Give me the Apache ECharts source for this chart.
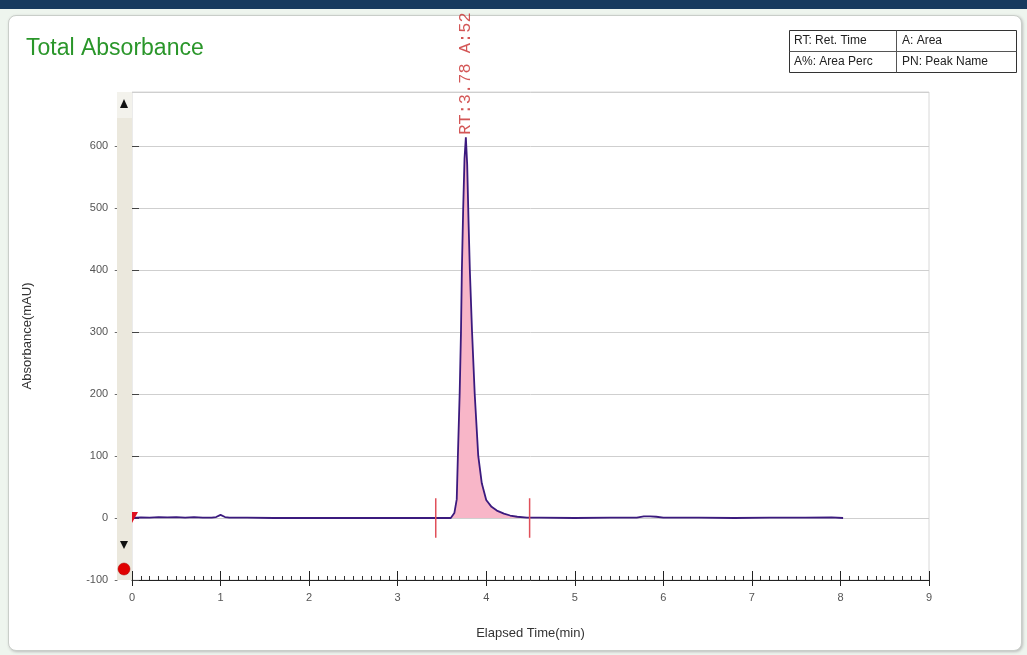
<!DOCTYPE html>
<html>
<head>
<meta charset="utf-8">
<script src="https://cdn.jsdelivr.net/npm/echarts@6/dist/echarts.min.js"></script>
<style>
html,body{margin:0;padding:0;background:#eef5ee;}
#topbar{position:absolute;left:0;top:0;width:1027px;height:9px;background:#173a5e;}
#panel{position:absolute;left:8px;top:15px;width:1012px;height:634px;background:#fff;border:1px solid #c9cec9;border-radius:8px;box-shadow:1px 1px 3px #bbb;}
#chart{position:absolute;left:0;top:0;width:1027px;height:655px;}
</style>
</head>
<body>
<div id="topbar"></div>
<div id="panel"></div>
<div id="chart"></div>
<script>
// ---- data ----
const times = [0, 0.1, 0.2, 0.3, 0.4, 0.5, 0.6, 0.7, 0.8, 0.9, 0.95, 1.0, 1.05, 1.1, 1.3, 1.6, 2.0, 2.4, 2.8, 3.2, 3.5, 3.6, 3.61, 3.64, 3.667, 3.68, 3.70, 3.715, 3.725, 3.74, 3.755, 3.77, 3.785, 3.80, 3.815, 3.84, 3.87, 3.91, 3.95, 4.0, 4.06, 4.12, 4.2, 4.27, 4.35, 4.46, 4.6, 5.0, 5.4, 5.7, 5.78, 5.85, 5.92, 6.0, 6.4, 6.8, 7.2, 7.6, 7.9, 8.03];
const absorbance = [0, 1, 0.5, 1.5, 1, 1.5, 0.5, 1.5, 0.5, 0.5, 1.5, 5, 1.5, 0.5, 0.5, 0, 0, 0, 0, 0, 0, 0, 1, 8, 30, 100, 200, 300, 400, 500, 580, 614, 570, 480, 400, 300, 200, 100, 56, 29, 18, 12, 7, 4, 2, 0.5, 0.5, 0, 0.5, 0.5, 2.5, 2.5, 2, 0.5, 0.5, 0, 0.5, 0.5, 1, 0];
const peakStart = 3.43;
const peakEnd = 4.49;
const peakMarkHalf = 32;
const peakLabel = 'RT:3.78 A:52';
const apexTime = 3.77, apexValue = 614;
const xTicks = [0,1,2,3,4,5,6,7,8,9];
const yTicks = [-100,0,100,200,300,400,500,600];

const lineData = times.map((t,i)=>[t, absorbance[i]]);
const fillData = lineData.filter(p => p[0] >= 3.6 && p[0] <= peakEnd);

const chart = echarts.init(document.getElementById('chart'), null, {renderer:'canvas'});
const font = 'Liberation Sans';
const gl = 132, gr = 929, gt = 92, gb = 580;

chart.setOption({
  animation:false,
  backgroundColor:'transparent',
  title:{text:'Total Absorbance', left:21, top:32, textStyle:{color:'#2a962a', fontSize:23, fontWeight:'normal', fontFamily:font}},
  grid:{left:gl, right:1027-gr, top:gt, bottom:655-gb, show:true, borderColor:'#d8d8d8', borderWidth:1},
  xAxis:[{type:'value', min:0, max:9, interval:1,
    name:'Elapsed Time(min)', nameLocation:'middle', nameGap:47,
    nameTextStyle:{fontFamily:font, fontSize:13, color:'#333'},
    axisLine:{show:true, onZero:false, lineStyle:{color:'#222', width:1}},
    axisTick:{show:true, inside:false, length:6, lineStyle:{color:'#222'}},
    minorTick:{show:false},
    axisLabel:{margin:12, fontFamily:font, fontSize:11, color:'#555', formatter:v=>xTicks.includes(v)?String(v):''},
    splitLine:{show:false}},
   {type:'value', min:0, max:9, interval:1, position:'bottom',
    axisLine:{show:false, onZero:false},
    axisTick:{show:true, inside:true, length:9, lineStyle:{color:'#222'}},
    minorTick:{show:true, splitNumber:10, length:4, lineStyle:{color:'#333'}},
    axisLabel:{show:false}, splitLine:{show:false}}],
  yAxis:{type:'value', min:-100, max:687, interval:100,
    name:'Absorbance(mAU)', nameLocation:'middle', nameGap:98,
    nameTextStyle:{fontFamily:font, fontSize:13, color:'#333'},
    axisLine:{show:false},
    axisTick:{show:true, inside:true, length:7, lineStyle:{color:'#444'}},
    axisLabel:{showMaxLabel:false, margin:14, fontFamily:font, fontSize:11, color:'#555', formatter:v=>yTicks.includes(v)?(v+'  -'):''},
    splitLine:{show:true, lineStyle:{color:'#cfcfcf', width:1}}},
  series:[
    {type:'line', data:fillData, symbol:'none', lineStyle:{width:0}, areaStyle:{color:'#f8b6c8', opacity:1}, z:2, silent:true},
    {type:'line', data:lineData, symbol:'none', lineStyle:{color:'#3b1a7e', width:1.8}, z:3},
    {type:'line', data:[[peakStart,-peakMarkHalf],[peakStart,peakMarkHalf]], symbol:'none', lineStyle:{color:'#e0505a', width:1.5}, z:4},
    {type:'line', data:[[peakEnd,-peakMarkHalf],[peakEnd,peakMarkHalf]], symbol:'none', lineStyle:{color:'#e0505a', width:1.5}, z:4},
    {type:'scatter', data:[[apexTime, apexValue]], symbolSize:1, itemStyle:{color:'transparent'}, z:5,
      label:{show:true, position:'top', distance:2, rotate:90, align:'left', verticalAlign:'middle',
        formatter:peakLabel, fontFamily:'Liberation Mono', fontSize:17, color:'#c82c2c'}}
  ],
  graphic:[
    {type:'rect', shape:{x:117, y:gt, width:15, height:gb-gt}, style:{fill:'#ebe8dd'}, z:10},
    {type:'rect', shape:{x:117, y:gt, width:15, height:26}, style:{fill:'#f3f2ec'}, z:11},
    {type:'polygon', shape:{points:[[120,108],[128,108],[124,99]]}, style:{fill:'#111'}, z:12},
    {type:'polygon', shape:{points:[[120,541],[128,541],[124,549]]}, style:{fill:'#111'}, z:12},
    {type:'circle', shape:{cx:124, cy:569, r:6}, style:{fill:'#e00000', stroke:'#a00', lineWidth:0.5}, z:12},
    {type:'polygon', shape:{points:[[132,512],[138,512],[132,523]]}, style:{fill:'#e01020'}, z:12},
    // legend table
    {type:'rect', shape:{x:789.5, y:30.5, width:227, height:42}, style:{fill:'#fff', stroke:'#333', lineWidth:1}, z:10},
    {type:'line', shape:{x1:789.5, y1:51.5, x2:1016.5, y2:51.5}, style:{stroke:'#555', lineWidth:1}, z:11},
    {type:'line', shape:{x1:896.5, y1:30.5, x2:896.5, y2:72.5}, style:{stroke:'#555', lineWidth:1}, z:11},
    {type:'text', x:794, y:41, style:{text:'RT: Ret. Time', fontFamily:font, fontSize:12, fill:'#222', verticalAlign:'middle'}, z:12},
    {type:'text', x:902, y:41, style:{text:'A: Area', fontFamily:font, fontSize:12, fill:'#222', verticalAlign:'middle'}, z:12},
    {type:'text', x:794, y:62, style:{text:'A%: Area Perc', fontFamily:font, fontSize:12, fill:'#222', verticalAlign:'middle', width:100, overflow:'truncate', ellipsis:''}, z:12},
    {type:'text', x:902, y:62, style:{text:'PN: Peak Name', fontFamily:font, fontSize:12, fill:'#222', verticalAlign:'middle'}, z:12}
  ]
});
</script>
</body>
</html>
